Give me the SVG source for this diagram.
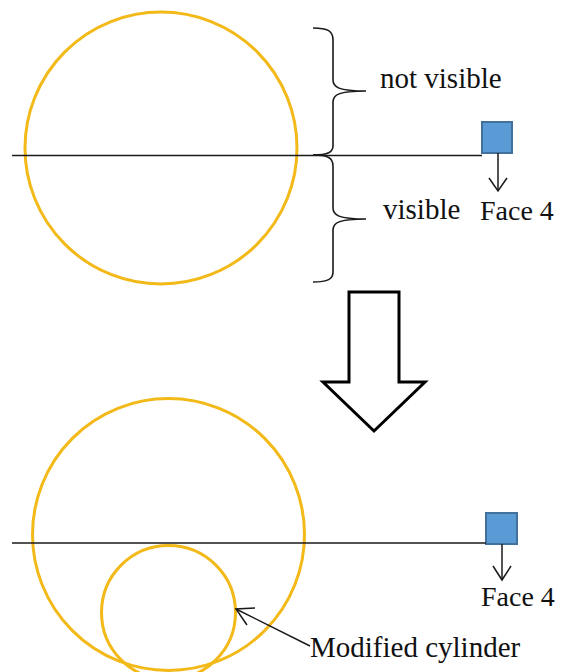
<svg xmlns="http://www.w3.org/2000/svg" width="561" height="672" viewBox="0 0 561 672">
<defs>
<style>
.cyl{fill:none;stroke:#f2b918;stroke-width:3}
.ln{fill:none;stroke:#1a1a1a;stroke-width:1.5}
.br{fill:none;stroke:#1a1a1a;stroke-width:1.6}
.sq{fill:#5b9bd5;stroke:#41719c;stroke-width:2}
.t{font-family:"Liberation Serif","Times New Roman",serif;font-size:28px;fill:#111}
.t2{font-family:"Liberation Serif","Times New Roman",serif;font-size:29px;fill:#111}
</style>
</defs>
<rect width="561" height="672" fill="#fff"/>
<g id="top-cylinder">
<circle class="cyl" cx="161" cy="148" r="136"/>
</g>
<g id="top-face4">
<rect class="sq" x="482" y="122" width="30" height="31"/>
<text class="t" x="480" y="220">Face 4</text>
</g>
<g id="brace-not-visible">
<path class="br" d="M313 28 C328 28 333 31 333 40 L333 80 C333 87 338 91 366 91 C338 91 333 95 333 102 L333 146 C333 152 328 155 313 155"/>
<text class="t2" x="380" y="88">not visible</text>
</g>
<g id="brace-visible">
<path class="br" d="M313 155 C328 155 333 158 333 166 L333 208 C333 215 338 219 366 219 C338 219 333 223 333 230 L333 272 C333 279 328 282 313 282"/>
<text class="t2" x="383" y="219">visible</text>
</g>
<g id="big-arrow">
<path d="M349 292 L399 292 L399 382 L425 382 L374 431 L323 382 L349 382 Z" fill="#fff" stroke="#000" stroke-width="3" stroke-linejoin="miter"/>
</g>
<g id="bottom-cylinder">
<circle class="cyl" cx="168.5" cy="534.5" r="136"/>
</g>
<g id="modified-cylinder">
<circle class="cyl" cx="168.5" cy="612.5" r="67"/>
<text class="t2" x="310" y="657">Modified cylinder</text>
</g>
<g id="bottom-face4">
<rect class="sq" x="486" y="513" width="31" height="31"/>
<text class="t" x="481" y="606">Face 4</text>
</g>
<g id="connectors">
<line class="ln" x1="12" y1="155.5" x2="482" y2="155.5"/>
<line class="ln" x1="498" y1="153" x2="498" y2="191"/>
<polyline class="ln" points="489,178 498,191 507,178"/>
<line class="ln" x1="12" y1="543" x2="486" y2="543"/>
<line class="ln" x1="502" y1="544" x2="502" y2="580"/>
<polyline class="ln" points="493,566 502,580 511,566"/>
<line class="ln" x1="310" y1="646" x2="236" y2="609"/>
<polyline class="ln" points="255,608 236,609 247,625"/>
</g>
</svg>
